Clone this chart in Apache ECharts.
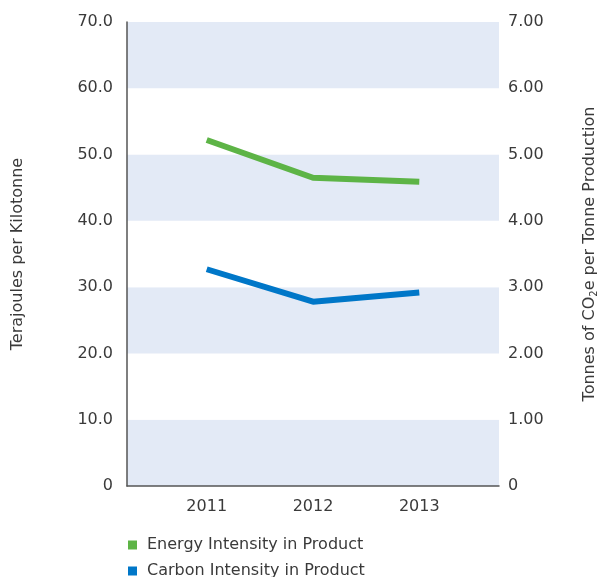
<!DOCTYPE html>
<html>
<head>
<meta charset="utf-8">
<script src="https://cdn.jsdelivr.net/npm/echarts@6/dist/echarts.min.js"></script>
<style>
  html, body { margin: 0; padding: 0; background: #fff; }
  #chart { width: 605px; height: 577px; }
</style>
</head>
<body>
<div id="chart"></div>
<script>
const years = [2011, 2012, 2013];
const energyIntensity = [52.2, 46.5, 45.9];
const carbonIntensity = [3.27, 2.78, 2.92];
const leftTicks = [0, 10, 20, 30, 40, 50, 60, 70];
const rightTicks = [0, 1, 2, 3, 4, 5, 6, 7];

const font = "DejaVu Sans";
const textColor = "#3a3a3a";

let chartDom = document.getElementById("chart");
let myChart = echarts.init(chartDom);

let option = {
  animation: false,
  textStyle: { fontFamily: font },
  legend: {
    orient: "vertical",
    left: 128,
    top: 537,
    height: 80,
    padding: 0,
    itemGap: 10,
    itemWidth: 9,
    itemHeight: 9,
    icon: "rect",
    textStyle: { fontFamily: font, fontSize: 16, color: textColor, padding: [0, 0, 0, 5] },
    data: ["Energy Intensity in Product", "Carbon Intensity in Product"],
  },
  grid: { left: 127, right: 106, top: 22, bottom: 91, outerBoundsMode: "none" },
  xAxis: {
    type: "value",
    min: 2010.25,
    max: 2013.75,
    splitLine: { show: false },
    axisTick: { show: false },
    axisLine: { show: true, lineStyle: { color: "#555", width: 1.5 } },
    axisLabel: {
      customValues: years,
      formatter: (v) => String(v),
      fontSize: 16,
      color: textColor,
      margin: 13,
      fontFamily: font,
    },
  },
  yAxis: [
    {
      type: "value",
      min: 0,
      max: 70,
      interval: 10,
      name: "Terajoules per Kilotonne",
      nameLocation: "middle",
      nameRotate: 90,
      nameGap: 101,
      nameTextStyle: { fontSize: 16, color: textColor, fontFamily: font },
      axisLine: { show: true, lineStyle: { color: "#555", width: 1.5 } },
      axisTick: { show: false },
      splitLine: { show: false },
      splitArea: { show: true, areaStyle: { color: ["#e3eaf6", "#ffffff"] } },
      axisLabel: {
        customValues: leftTicks,
        formatter: (v) => (v === 0 ? "0" : v.toFixed(1)),
        fontSize: 16,
        color: textColor,
        margin: 14,
        fontFamily: font,
      },
    },
    {
      type: "value",
      min: 0,
      max: 7,
      interval: 1,
      name: "Tonnes of CO{sub|2}e per Tonne Production",
      nameLocation: "middle",
      nameRotate: 90,
      nameGap: 82,
      nameTextStyle: {
        fontSize: 16,
        color: textColor,
        fontFamily: font,
        rich: { sub: { fontSize: 10, verticalAlign: "bottom", color: textColor, fontFamily: font, padding: [8, 0, 0, 0] } },
      },
      axisLine: { show: false },
      axisTick: { show: false },
      splitLine: { show: false },
      axisLabel: {
        customValues: rightTicks,
        formatter: (v) => (v === 0 ? "0" : v.toFixed(2)),
        fontSize: 16,
        color: textColor,
        margin: 9,
        fontFamily: font,
      },
    },
  ],
  series: [
    {
      name: "Energy Intensity in Product",
      type: "line",
      yAxisIndex: 0,
      showSymbol: false,
      symbol: "none",
      color: "#5db446",
      lineStyle: { width: 6, color: "#5db446" },
      data: years.map((y, i) => [y, energyIntensity[i]]),
    },
    {
      name: "Carbon Intensity in Product",
      type: "line",
      yAxisIndex: 1,
      showSymbol: false,
      symbol: "none",
      color: "#0077c8",
      lineStyle: { width: 6, color: "#0077c8" },
      data: years.map((y, i) => [y, carbonIntensity[i]]),
    },
  ],
};
myChart.setOption(option);
</script>
</body>
</html>
